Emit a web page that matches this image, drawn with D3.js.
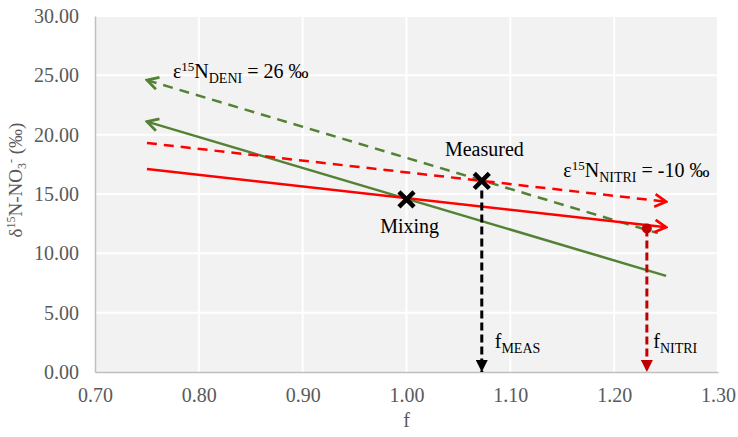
<!DOCTYPE html>
<html>
<head>
<meta charset="utf-8">
<script src="https://cdn.jsdelivr.net/npm/d3@7"></script>
<style>
  body { margin: 0; background: #fff; }
  text { font-family: "Liberation Serif", "Times New Roman", serif; }
</style>
</head>
<body>
<script>
// chart data
var xTicks = [0.70, 0.80, 0.90, 1.00, 1.10, 1.20, 1.30];
var yTicks = [0, 5, 10, 15, 20, 25, 30];

// lines as [f, delta] end points
var deniMixing = [[0.75, 21.1], [1.25, 8.1]];      // green solid
var deniMeasured = [[0.75, 24.6], [1.242, 11.7]];  // green dashed
var nitriMixing = [[0.75, 17.1], [1.25, 12.2]];    // red solid
var nitriMeasured = [[0.75, 19.3], [1.25, 14.35]]; // red dashed

var mixing = [1.00, 14.55];
var measured = [1.0725, 16.1];
var fNitri = [1.2315, 12.1];

var width = 738,
	height = 437;

var svg = d3.select('body')
	.append('svg')
	.attr('width', width)
	.attr('height', height)
	.attr('font-family', '"Liberation Serif", serif');

var x = d3.scaleLinear().domain([0.7, 1.3]).range([95, 718]);
var y = d3.scaleLinear().domain([0, 30]).range([372, 16]);

// arrow heads
var defs = svg.append('defs');
function openArrow(id, color) {
	defs.append('marker')
		.attr('id', id)
		.attr('viewBox', '0 0 12 12')
		.attr('refX', 10.5)
		.attr('refY', 6)
		.attr('markerUnits', 'userSpaceOnUse')
		.attr('markerWidth', 15)
		.attr('markerHeight', 15)
		.attr('orient', 'auto-start-reverse')
		.append('path')
		.attr('d', 'M1.5,1 L10.5,6 L1.5,11')
		.attr('fill', 'none')
		.attr('stroke', color)
		.attr('stroke-width', 2.2)
		.attr('stroke-dasharray', 'none');
}
function fillArrow(id, color) {
	defs.append('marker')
		.attr('id', id)
		.attr('viewBox', '0 0 12 12')
		.attr('refX', 12)
		.attr('refY', 6)
		.attr('markerUnits', 'userSpaceOnUse')
		.attr('markerWidth', 12)
		.attr('markerHeight', 12)
		.attr('orient', 'auto')
		.append('path')
		.attr('d', 'M0,0 L12,6 L0,12 Z')
		.attr('fill', color);
}
openArrow('greenArrow', '#548235');
openArrow('redArrow', '#ff0000');
fillArrow('blackHead', '#000');
fillArrow('darkRedHead', '#c00000');

// plot area
svg.append('rect')
	.attr('x', x(0.7))
	.attr('y', y(30))
	.attr('width', x(1.3) - x(0.7))
	.attr('height', y(0) - y(30))
	.attr('fill', '#f2f2f2');

// grid
svg.append('g')
	.selectAll('line')
	.data(yTicks.slice(1))
	.enter().append('line')
	.attr('x1', x(0.7))
	.attr('x2', x(1.3))
	.attr('y1', function(d) { return y(d); })
	.attr('y2', function(d) { return y(d); })
	.attr('stroke', '#fff')
	.attr('stroke-width', 2);

svg.append('g')
	.selectAll('line')
	.data(xTicks.slice(1))
	.enter().append('line')
	.attr('x1', function(d) { return x(d); })
	.attr('x2', function(d) { return x(d); })
	.attr('y1', y(0))
	.attr('y2', y(30))
	.attr('stroke', '#fff')
	.attr('stroke-width', 2);

// axes
var xAxis = svg.append('g')
	.attr('transform', 'translate(0,' + y(0) + ')')
	.call(d3.axisBottom(x).tickValues(xTicks).tickFormat(d3.format('.2f')).tickSize(0).tickPadding(16));
var yAxis = svg.append('g')
	.attr('transform', 'translate(' + x(0.7) + ',0)')
	.call(d3.axisLeft(y).tickValues(yTicks).tickFormat(d3.format('.2f')).tickSize(0).tickPadding(16));

[xAxis, yAxis].forEach(function(a) {
	a.attr('font-family', '"Liberation Serif", serif').attr('font-size', 20);
	a.select('.domain').attr('stroke', '#bfbfbf').attr('stroke-width', 1.5);
	a.selectAll('text').attr('fill', '#595959');
});

// axis titles
svg.append('text')
	.attr('x', (x(0.7) + x(1.3)) / 2)
	.attr('y', 427)
	.attr('text-anchor', 'middle')
	.attr('fill', '#595959')
	.style('font-size', '20px')
	.text('f');

var yTitle = svg.append('text')
	.attr('transform', 'translate(22,180) rotate(-90)')
	.attr('text-anchor', 'middle')
	.attr('fill', '#595959')
	.style('font-size', '19px');
yTitle.append('tspan').text('δ');
yTitle.append('tspan').attr('dy', -7).style('font-size', '12px').text('15');
yTitle.append('tspan').attr('dy', 7).text('N-NO');
yTitle.append('tspan').attr('dy', 4).style('font-size', '12px').text('3');
yTitle.append('tspan').attr('dy', -11).style('font-size', '12px').text('-');
yTitle.append('tspan').attr('dy', 7).text(' (‰)');

// fractionation lines
var line = d3.line()
	.x(function(d) { return x(d[0]); })
	.y(function(d) { return y(d[1]); });

var lines = [
	{ data: deniMeasured, color: '#548235', dash: '10,7', start: 'url(#greenArrow)', end: null },
	{ data: deniMixing, color: '#548235', dash: null, start: 'url(#greenArrow)', end: null },
	{ data: nitriMeasured, color: '#ff0000', dash: '10,7', start: null, end: 'url(#redArrow)' },
	{ data: nitriMixing, color: '#ff0000', dash: null, start: null, end: 'url(#redArrow)' }
];

svg.append('g')
	.selectAll('path')
	.data(lines)
	.enter().append('path')
	.attr('d', function(d) { return line(d.data); })
	.attr('fill', 'none')
	.attr('stroke', function(d) { return d.color; })
	.attr('stroke-width', 2.5)
	.attr('stroke-dasharray', function(d) { return d.dash; })
	.attr('marker-start', function(d) { return d.start; })
	.attr('marker-end', function(d) { return d.end; });

// drop lines to the f axis
svg.append('path')
	.attr('d', line([[measured[0], measured[1] - 0.8], [measured[0], 0]]))
	.attr('stroke', '#000')
	.attr('stroke-width', 3)
	.attr('stroke-dasharray', '8,4')
	.attr('marker-end', 'url(#blackHead)');

svg.append('path')
	.attr('d', line([fNitri, [fNitri[0], 0]]))
	.attr('stroke', '#c00000')
	.attr('stroke-width', 3)
	.attr('stroke-dasharray', '8,4')
	.attr('marker-end', 'url(#darkRedHead)');

svg.append('circle')
	.attr('cx', x(fNitri[0]))
	.attr('cy', y(fNitri[1]))
	.attr('r', 5)
	.attr('fill', '#c00000');

// mixing and measured points
svg.append('g')
	.selectAll('path')
	.data([mixing, measured])
	.enter().append('path')
	.attr('transform', function(d) { return 'translate(' + x(d[0]) + ',' + y(d[1]) + ')'; })
	.attr('d', d3.symbol(d3.symbolTimes).size(150))
	.attr('fill', 'none')
	.attr('stroke', '#000')
	.attr('stroke-width', 4.5);

// labels
function label(pos, anchor) {
	return svg.append('text')
		.attr('x', x(pos[0]))
		.attr('y', y(pos[1]))
		.attr('text-anchor', anchor)
		.attr('fill', '#000')
		.style('font-size', '20px');
}

label([1.075, 18.2], 'middle').text('Measured');
label([1.003, 11.7], 'middle').text('Mixing');

var deni = label([0.775, 24.8], 'start');
deni.append('tspan').text('ε');
deni.append('tspan').attr('dy', -7).style('font-size', '13px').text('15');
deni.append('tspan').attr('dy', 7).text('N');
deni.append('tspan').attr('dy', 5).style('font-size', '14px').text('DENI');
deni.append('tspan').attr('dy', -5).text(' = 26 ‰');

var nitri = label([1.151, 16.4], 'start');
nitri.append('tspan').text('ε');
nitri.append('tspan').attr('dy', -7).style('font-size', '13px').text('15');
nitri.append('tspan').attr('dy', 7).text('N');
nitri.append('tspan').attr('dy', 5).style('font-size', '14px').text('NITRI');
nitri.append('tspan').attr('dy', -5).text(' = -10 ‰');

var fm = label([1.085, 2.0], 'start');
fm.append('tspan').text('f');
fm.append('tspan').attr('dy', 5).style('font-size', '14px').text('MEAS');

var fn = label([1.2376, 2.0], 'start');
fn.append('tspan').text('f');
fn.append('tspan').attr('dy', 5).style('font-size', '14px').text('NITRI');
</script>
</body>
</html>
